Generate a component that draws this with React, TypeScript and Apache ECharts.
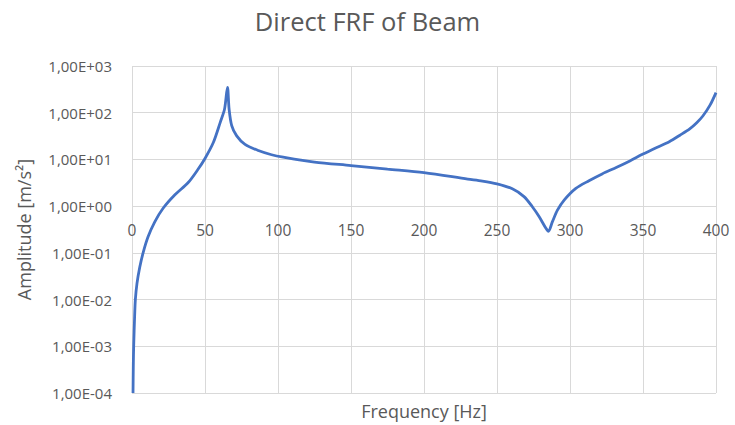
import React, { useEffect, useRef } from "react";
import * as echarts from "echarts";

const frequency = [
  0.7, 0.9, 1.15, 1.8, 2.3, 3.4, 5.3, 7.6, 11, 15.6, 21.3, 29.4, 38.5, 45,
  50, 55.7, 60.5, 63.4, 65.4, 66.5, 68.3, 71.7, 77.4, 86.5, 95.6, 103.6,
  125, 150, 175, 200, 230, 240, 250, 260.5, 268.5, 274.2, 278.8, 283.4, 285.2,
  287.9, 291.4, 296, 304, 313, 322, 332, 341, 350, 359.4, 368, 375.3, 382,
  386.8, 391, 395.9, 400,
];
const amplitude = [
  0.0001, 0.0004, 0.001, 0.0044, 0.01, 0.022, 0.049, 0.1, 0.22, 0.46, 0.9, 1.75,
  3.2, 6.0, 10.5, 23, 63, 120, 350, 120, 53, 32, 21, 15.5, 12.6, 11.2,
  8.8, 7.4, 6.2, 5.2, 3.8, 3.45, 3.0, 2.35, 1.6, 0.97, 0.6, 0.34, 0.29,
  0.46, 0.82, 1.35, 2.4, 3.5, 4.9, 6.8, 9.3, 13, 18, 24, 33, 45,
  61, 85, 145, 270,
];
const titleText = "Direct FRF of Beam";
const xName = "Frequency [Hz]";
const yName = "Amplitude [m/s²]";

function fmtExp(v: number): string {
  const e = Math.round(Math.log10(v));
  const sign = e < 0 ? "-" : "+";
  const a = Math.abs(e);
  return "1,00E" + sign + (a < 10 ? "0" + a : String(a));
}

export default function App() {
  const ref = useRef<HTMLDivElement>(null);
  useEffect(() => {
    if (!ref.current) return;
    const chart = echarts.init(ref.current, null, { renderer: "svg" });
    const font = "'Open Sans', sans-serif";
    const grey = "#595959";
    chart.setOption({
      animation: false,
      backgroundColor: "#ffffff",
      title: {
        text: titleText,
        left: "center",
        top: 3,
        textStyle: { fontFamily: font, fontSize: 25.5, fontWeight: "normal", color: grey },
      },
      grid: { left: 132, right: 19, top: 66, bottom: 32, containLabel: false },
      xAxis: {
        type: "value",
        min: 0,
        max: 400,
        interval: 50,
        name: xName,
        nameLocation: "middle",
        nameGap: 9,
        nameTextStyle: { fontFamily: font, fontSize: 18, color: grey },
        axisLine: { show: false, onZero: false },
        axisTick: { show: false },
        axisLabel: { margin: -171, fontFamily: font, fontSize: 15.5, color: grey },
        splitLine: { show: true, lineStyle: { color: "#d9d9d9", width: 1 } },
      },
      yAxis: {
        type: "log",
        logBase: 10,
        min: 0.0001,
        max: 1000,
        interval: 1,
        name: yName,
        nameLocation: "middle",
        nameGap: 99,
        nameRotate: 90,
        nameTextStyle: { fontFamily: font, fontSize: 18, color: grey },
        axisLine: { show: false },
        axisTick: { show: false },
        axisLabel: { margin: 20, fontFamily: font, fontSize: 15, color: grey, formatter: fmtExp },
        splitLine: { show: true, lineStyle: { color: "#d9d9d9", width: 1 } },
      },
      series: [
        {
          type: "line",
          data: frequency.map((f, i) => [f, amplitude[i]]),
          showSymbol: false,
          smooth: 0.3,
          lineStyle: { color: "#4472C4", width: 2.8 },
          itemStyle: { color: "#4472C4" },
        },
      ],
    });
    return () => chart.dispose();
  }, []);
  return (
    <div
      ref={ref}
      style={{ position: "fixed", left: 0, top: 0, width: 735, height: 425 }}
    />
  );
}
